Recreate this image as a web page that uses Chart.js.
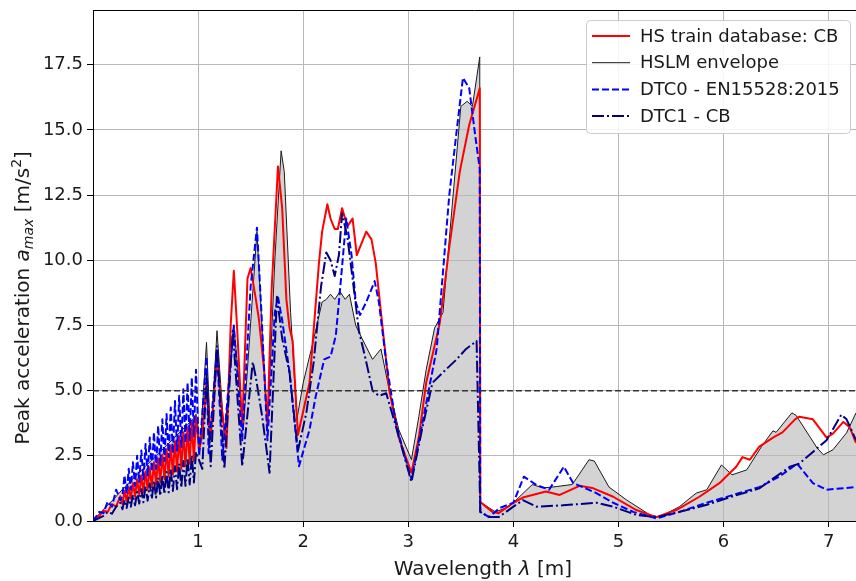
<!DOCTYPE html>
<html>
<head>
<meta charset="utf-8">
<script src="https://cdn.jsdelivr.net/npm/chart.js@4.4.1/dist/chart.umd.min.js"></script>
<style>
  html, body { margin: 0; padding: 0; background: #fff; }
  #chart { display: block; }
</style>
</head>
<body>
<canvas id="chart" width="856" height="581"></canvas>
<script>
/* ─── Data ───────────────────────────────────────────────────────────────── */
const xTicks = [1, 2, 3, 4, 5, 6, 7];
const yTicks = [0, 2.5, 5, 7.5, 10, 12.5, 15, 17.5];
const X_MIN = 0, X_MAX = 7.26, Y_MIN = 0, Y_MAX = 19.6;
const THRESHOLD = 5;

// HS train database: CB
const hsLam = [0, 0.06, 0.1, 0.14, 0.18, 0.22, 0.26, 0.28,
  0.3, 0.32, 0.34, 0.36, 0.38, 0.4, 0.42, 0.44, 0.46, 0.48, 0.5, 0.52, 0.54, 0.56, 0.58, 0.6, 0.62, 0.64, 0.66, 0.68, 0.7, 0.72, 0.74, 0.76, 0.78, 0.8, 0.82, 0.84, 0.86, 0.88, 0.9, 0.92, 0.94, 0.96, 0.98,
  1.01, 1.04, 1.08, 1.12, 1.18, 1.22, 1.27, 1.31, 1.34, 1.37, 1.42, 1.47, 1.5, 1.55, 1.58, 1.63, 1.66, 1.7, 1.76, 1.8, 1.84, 1.87, 1.9, 1.95, 2.06, 2.15, 2.18, 2.23, 2.26, 2.3, 2.33, 2.37, 2.42, 2.47, 2.51, 2.6, 2.65, 2.69, 2.74, 2.82, 2.91, 3.03, 3.1, 3.17, 3.3, 3.39, 3.49, 3.58, 3.68, 3.685, 3.8, 3.86, 4.0, 4.09, 4.31, 4.44, 4.63, 4.75, 4.95, 5.17, 5.36, 5.55, 5.77, 5.96, 6.12, 6.18, 6.25, 6.34, 6.47, 6.56, 6.68, 6.72, 6.85, 6.98, 7.04, 7.14, 7.2, 7.26];
const hsAcc = [0, 0.2, 0.4, 0.35, 0.65, 0.55, 0.95, 0.65,
  1.15, 0.75, 1.3, 0.85, 1.45, 0.95, 1.6, 1.0, 1.75, 1.1, 1.9, 1.2, 2.05, 1.3, 2.25, 1.4, 2.4, 1.5, 2.55, 1.6, 2.75, 1.7, 2.9, 1.8, 3.05, 1.9, 3.25, 2.0, 3.4, 2.1, 3.6, 2.2, 3.8, 2.3, 4.0,
  2.7, 3.3, 5.3, 3.2, 6.4, 4.5, 2.8, 7.5, 9.6, 7.5, 3.6, 9.3, 9.7, 8.5, 7.7, 5.7, 3.7, 8.9, 13.6, 12.0, 8.5, 7.4, 6.9, 3.3, 5.3, 9.9, 11.1, 12.15, 11.6, 11.2, 11.2, 12.0, 11.3, 11.6, 10.2, 11.1, 10.8, 9.9, 8.0, 5.0, 3.2, 1.85, 3.2, 5.3, 7.6, 10.5, 13.4, 15.2, 16.6, 0.73, 0.35, 0.3, 0.7, 0.9, 1.13, 1.0, 1.35, 1.27, 0.93, 0.42, 0.15, 0.42, 0.93, 1.45, 2.08, 2.45, 2.35, 2.85, 3.2, 3.4, 3.9, 4.0, 3.9, 3.2, 3.35, 3.8, 3.6, 3.0];

// HSLM envelope
const hslmLam = [0, 0.1, 0.2, 0.3, 0.4, 0.5, 0.6, 0.7, 0.8, 0.9, 0.95, 0.98, 1.02, 1.08, 1.12, 1.18, 1.25, 1.34, 1.43, 1.56, 1.66, 1.73, 1.79, 1.82, 1.88, 1.94, 2.0, 2.09, 2.18, 2.22, 2.26, 2.3, 2.35, 2.4, 2.44, 2.5, 2.56, 2.66, 2.74, 2.82, 2.91, 3.03, 3.1, 3.17, 3.25, 3.33, 3.42, 3.5, 3.56, 3.61, 3.68, 3.685, 3.77, 3.83, 3.96, 4.18, 4.28, 4.37, 4.56, 4.72, 4.77, 4.91, 5.08, 5.3, 5.39, 5.58, 5.74, 5.84, 5.98, 6.08, 6.22, 6.36, 6.47, 6.5, 6.65, 6.69, 6.89, 6.95, 7.04, 7.17, 7.26];
const hslmAcc = [0, 0.45, 0.85, 1.3, 1.7, 2.1, 2.5, 2.9, 3.3, 3.7, 3.9, 4.1, 2.9, 6.85, 3.1, 7.3, 3.2, 7.5, 3.5, 11.1, 3.5, 10.0, 14.2, 13.4, 8.0, 3.9, 5.3, 6.8, 8.4, 8.5, 8.7, 8.5, 8.8, 8.5, 8.7, 7.5, 7.0, 6.2, 6.6, 5.0, 3.5, 2.35, 4.0, 5.8, 7.4, 8.0, 12.2, 15.9, 16.1, 15.9, 17.8, 0.73, 0.5, 0.35, 0.55, 1.4, 1.27, 1.3, 1.4, 2.35, 2.3, 1.3, 0.8, 0.23, 0.15, 0.55, 1.07, 1.2, 2.15, 1.77, 1.96, 2.85, 3.46, 3.4, 4.15, 4.05, 2.8, 2.54, 2.73, 3.38, 4.15];

// DTC0 - EN15528:2015
const dtc0Lam = [0, 0.06, 0.1, 0.14, 0.18, 0.22, 0.26, 0.28,
  0.3, 0.32, 0.34, 0.36, 0.38, 0.4, 0.42, 0.44, 0.46, 0.48, 0.5, 0.52, 0.54, 0.56, 0.58, 0.6, 0.62, 0.64, 0.66, 0.68, 0.7, 0.72, 0.74, 0.76, 0.78, 0.8, 0.82, 0.84, 0.86, 0.88, 0.9, 0.92, 0.94, 0.96, 0.98,
  1.01, 1.08, 1.1, 1.18, 1.23, 1.34, 1.42, 1.5, 1.56, 1.6, 1.63, 1.66, 1.73, 1.76, 1.8, 1.87, 1.96, 2.06, 2.12, 2.2, 2.26, 2.31, 2.36, 2.41, 2.46, 2.5, 2.54, 2.6, 2.68, 2.72, 2.79, 2.88, 2.94, 3.03, 3.17, 3.27, 3.39, 3.47, 3.52, 3.58, 3.63, 3.68, 3.685, 3.77, 3.87, 4.0, 4.1, 4.22, 4.34, 4.48, 4.57, 4.66, 4.79, 4.95, 5.14, 5.36, 5.58, 5.84, 6.09, 6.34, 6.53, 6.7, 6.85, 6.98, 7.17, 7.26];
const dtc0Acc = [0, 0.35, 0.3, 0.75, 0.55, 1.2, 0.8, 0.95,
  1.75, 1.05, 2.0, 1.2, 2.25, 1.35, 2.5, 1.5, 2.7, 1.6, 2.95, 1.75, 3.2, 1.9, 3.4, 2.0, 3.65, 2.15, 3.9, 2.3, 4.1, 2.45, 4.35, 2.6, 4.6, 2.7, 4.8, 2.85, 5.05, 3.0, 5.3, 3.1, 5.5, 3.25, 5.8,
  2.5, 6.3, 2.6, 6.6, 2.35, 7.5, 3.1, 9.0, 11.25, 8.2, 5.7, 3.1, 8.0, 8.6, 7.7, 5.7, 2.1, 3.5, 4.8, 6.2, 6.3, 7.1, 9.3, 11.6, 10.2, 8.4, 7.9, 8.4, 9.2, 8.4, 6.1, 3.8, 2.85, 1.6, 4.5, 6.6, 12.5, 15.3, 17.0, 16.6, 15.0, 13.5, 0.35, 0.15, 0.5, 0.7, 1.7, 1.38, 1.2, 2.08, 1.45, 1.3, 1.07, 0.7, 0.35, 0.1, 0.35, 0.7, 1.0, 1.3, 1.7, 2.2, 1.45, 1.2, 1.27, 1.3];

// DTC1 - CB
const dtc1Lam = [0, 0.1, 0.14, 0.18, 0.22, 0.26, 0.28,
  0.3, 0.32, 0.34, 0.36, 0.38, 0.4, 0.42, 0.44, 0.46, 0.48, 0.5, 0.52, 0.54, 0.56, 0.58, 0.6, 0.62, 0.64, 0.66, 0.68, 0.7, 0.72, 0.74, 0.76, 0.78, 0.8, 0.82, 0.84, 0.86, 0.88, 0.9, 0.92, 0.94, 0.96, 0.98,
  1.04, 1.08, 1.12, 1.18, 1.25, 1.33, 1.42, 1.52, 1.55, 1.61, 1.68, 1.75, 1.8, 1.87, 1.95, 2.03, 2.1, 2.17, 2.22, 2.26, 2.3, 2.34, 2.37, 2.42, 2.47, 2.53, 2.6, 2.66, 2.72, 2.79, 2.87, 3.03, 3.13, 3.23, 3.33, 3.46, 3.55, 3.65, 3.685, 3.77, 3.86, 4.0, 4.09, 4.22, 4.47, 4.79, 4.95, 5.17, 5.36, 5.58, 5.84, 6.09, 6.34, 6.63, 6.72, 6.85, 6.98, 7.12, 7.17, 7.26];
const dtc1Acc = [0, 0.2, 0.35, 0.28, 0.55, 0.7, 0.45,
  0.8, 0.5, 0.9, 0.55, 1.0, 0.6, 1.12, 0.67, 1.22, 0.72, 1.33, 0.78, 1.44, 0.85, 1.55, 0.9, 1.66, 0.97, 1.77, 1.03, 1.88, 1.1, 1.99, 1.15, 2.1, 1.22, 2.2, 1.28, 2.3, 1.35, 2.42, 1.4, 2.52, 1.48, 2.65,
  2.0, 5.6, 2.1, 6.7, 2.0, 7.3, 2.1, 6.1, 5.5, 4.0, 1.85, 8.6, 7.0, 5.7, 2.7, 4.15, 6.1, 9.0, 10.3, 10.0, 9.4, 10.2, 11.8, 10.9, 9.3, 7.3, 6.1, 5.0, 4.8, 4.9, 3.8, 1.5, 3.5, 5.3, 5.7, 6.2, 6.6, 6.9, 0.35, 0.15, 0.15, 0.55, 0.8, 0.55, 0.6, 0.7, 0.55, 0.23, 0.15, 0.35, 0.62, 0.95, 1.25, 2.08, 2.2, 2.65, 3.1, 4.08, 3.9, 3.1];

/* ─── Helpers ────────────────────────────────────────────────────────────── */
const FONT = '"DejaVu Sans", sans-serif';
const pts = (lam, acc) => lam.map((x, i) => ({ x, y: acc[i] }));

function drawRich(ctx, parts, cx, cy, angle) {
  const fontOf = p => `${p.italic ? 'italic ' : ''}${p.size}px ${FONT}`;
  ctx.save();
  ctx.translate(cx, cy);
  ctx.rotate(angle);
  ctx.textAlign = 'left';
  ctx.textBaseline = 'alphabetic';
  let total = 0;
  parts.forEach(p => { ctx.font = fontOf(p); p.w = ctx.measureText(p.t).width; total += p.w; });
  let x = -total / 2;
  parts.forEach(p => { ctx.font = fontOf(p); ctx.fillText(p.t, x, 7 + (p.dy || 0)); x += p.w; });
  ctx.restore();
}

/* ─── Plugins: frame, axis titles, legend ────────────────────────────────── */
const framePlugin = {
  id: 'frame',
  afterDraw(chart) {
    const { ctx, chartArea: a } = chart;
    ctx.save();
    ctx.strokeStyle = '#000';
    ctx.lineWidth = 1;
    ctx.beginPath();
    ctx.moveTo(a.left, a.top + 0.5);
    ctx.lineTo(a.right, a.top + 0.5);
    ctx.stroke();
    ctx.restore();
  }
};

const titlesPlugin = {
  id: 'titles',
  afterDraw(chart) {
    const { ctx, chartArea: a } = chart;
    ctx.save();
    ctx.fillStyle = '#1a1a1a';
    drawRich(ctx, [
      { t: 'Wavelength ', size: 20 },
      { t: 'λ', size: 20, italic: true },
      { t: ' [m]', size: 20 }
    ], 483, a.bottom + 47, 0);
    drawRich(ctx, [
      { t: 'Peak acceleration ', size: 20 },
      { t: 'a', size: 20, italic: true },
      { t: 'max', size: 14, italic: true, dy: 4 },
      { t: ' [m/s', size: 20 },
      { t: '2', size: 14, dy: -8 },
      { t: ']', size: 20 }
    ], 22, 298, -Math.PI / 2);
    ctx.restore();
  }
};

const legendPlugin = {
  id: 'boxLegend',
  afterDraw(chart) {
    const ctx = chart.ctx;
    const items = chart.data.datasets
      .filter(d => d.legendIndex !== undefined)
      .sort((p, q) => p.legendIndex - q.legendIndex);
    const x0 = 586, y0 = 20, w = 264, h = 113, r = 4;
    ctx.save();
    ctx.beginPath();
    ctx.roundRect(x0 + 0.5, y0 + 0.5, w, h, r);
    ctx.fillStyle = 'rgba(255,255,255,0.85)';
    ctx.fill();
    ctx.strokeStyle = '#cccccc';
    ctx.lineWidth = 1;
    ctx.stroke();
    items.forEach((d, i) => {
      const y = y0 + 16 + i * 26.7;
      ctx.beginPath();
      ctx.setLineDash(d.borderDash || []);
      ctx.strokeStyle = d.borderColor;
      ctx.lineWidth = d.borderWidth;
      ctx.moveTo(x0 + 6, y);
      ctx.lineTo(x0 + 44, y);
      ctx.stroke();
      ctx.setLineDash([]);
      ctx.fillStyle = '#1a1a1a';
      ctx.font = `18px ${FONT}`;
      ctx.textBaseline = 'middle';
      ctx.fillText(d.label, x0 + 54, y + 1);
    });
    ctx.restore();
  }
};

/* ─── Chart ──────────────────────────────────────────────────────────────── */
const lineBase = { pointRadius: 0, tension: 0, borderJoinStyle: 'round', fill: false };

new Chart(document.getElementById('chart'), {
  type: 'line',
  data: {
    datasets: [
      {
        ...lineBase,
        label: 'threshold',
        data: [{ x: X_MIN, y: THRESHOLD }, { x: X_MAX, y: THRESHOLD }],
        borderColor: '#333333',
        borderWidth: 1.5,
        borderDash: [6, 3],
        order: 0
      },
      {
        ...lineBase,
        label: 'DTC1 - CB',
        data: pts(dtc1Lam, dtc1Acc),
        borderColor: '#000080',
        borderWidth: 2,
        borderDash: [12, 3, 2, 3],
        order: 1,
        legendIndex: 3
      },
      {
        ...lineBase,
        label: 'DTC0 - EN15528:2015',
        data: pts(dtc0Lam, dtc0Acc),
        borderColor: '#0000ff',
        borderWidth: 2,
        borderDash: [7, 3],
        order: 2,
        legendIndex: 2
      },
      {
        ...lineBase,
        label: 'HS train database: CB',
        data: pts(hsLam, hsAcc),
        borderColor: '#ff0000',
        borderWidth: 2,
        order: 3,
        legendIndex: 0
      },
      {
        ...lineBase,
        label: 'HSLM envelope',
        data: pts(hslmLam, hslmAcc),
        borderColor: '#1a1a1a',
        borderWidth: 1,
        fill: 'origin',
        backgroundColor: '#d3d3d3',
        order: 4,
        legendIndex: 1
      }
    ]
  },
  options: {
    responsive: false,
    animation: false,
    layout: { padding: { top: 10, right: 0, bottom: 0, left: 0 } },
    plugins: {
      legend: { display: false },
      tooltip: { enabled: false },
      filler: { drawTime: 'beforeDraw' }
    },
    scales: {
      x: {
        type: 'linear',
        min: X_MIN,
        max: X_MAX,
        afterBuildTicks: s => { s.ticks = xTicks.map(v => ({ value: v })); },
        afterFit: s => { s.height = 60; s.paddingLeft = 0; s.paddingRight = 0; },
        ticks: { font: { family: FONT, size: 18 }, color: '#1a1a1a', padding: 5, maxRotation: 0 },
        grid: { color: '#b8b8b8', lineWidth: 1, tickColor: '#000', tickLength: 6 },
        border: { color: '#000', width: 1 }
      },
      y: {
        type: 'linear',
        min: Y_MIN,
        max: Y_MAX,
        afterBuildTicks: s => { s.ticks = yTicks.map(v => ({ value: v })); },
        afterFit: s => { s.width = 93; s.paddingTop = 0; s.paddingBottom = 0; },
        ticks: { font: { family: FONT, size: 18 }, color: '#1a1a1a', padding: 4, callback: v => v.toFixed(1) },
        grid: { color: '#b8b8b8', lineWidth: 1, tickColor: '#000', tickLength: 6 },
        border: { color: '#000', width: 1 }
      }
    }
  },
  plugins: [framePlugin, titlesPlugin, legendPlugin]
});
</script>
</body>
</html>
